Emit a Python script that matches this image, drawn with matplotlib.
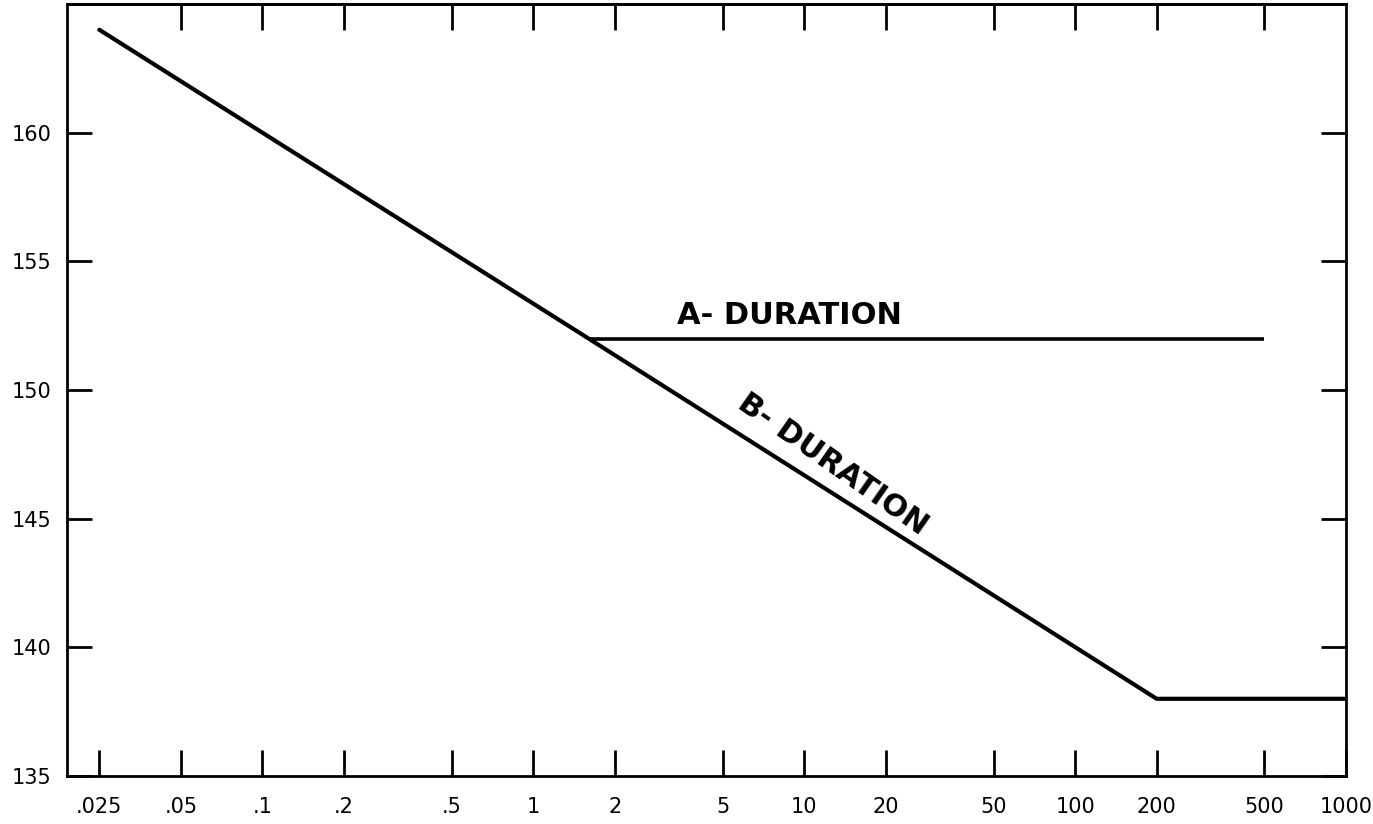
import numpy as np
import matplotlib
matplotlib.use("Agg")
import matplotlib.pyplot as plt
from matplotlib.ticker import FixedLocator, NullLocator

# duration (ms) vs peak level (dB)
b_dur = [0.025, 1.6, 200, 1000]
b_level = [164, 152, 138, 138]
a_dur = [1.6, 500]
a_level = [152, 152]

x_ticks = [0.025, 0.05, 0.1, 0.2, 0.5, 1, 2, 5, 10, 20, 50, 100, 200, 500, 1000]
x_labels = [".025", ".05", ".1", ".2", ".5", "1", "2", "5", "10", "20", "50",
            "100", "200", "500", "1000"]
y_ticks = [135, 140, 145, 150, 155, 160]

fig = plt.figure(figsize=(13.73, 8.24), dpi=100)
ax = fig.add_axes([67/1373, 1 - 776/824, 1279/1373, 772/824])

ax.plot(b_dur, b_level, color="black", lw=3, solid_joinstyle="round", solid_capstyle="round")
ax.plot(a_dur, a_level, color="black", lw=2.6, solid_capstyle="butt")

ax.set_xscale("log")
ax.set_xlim(0.019, 1000)
ax.set_ylim(135, 165)

ax.xaxis.set_major_locator(FixedLocator(x_ticks))
ax.xaxis.set_minor_locator(NullLocator())
ax.set_xticklabels(x_labels)
ax.set_yticks(y_ticks)

ax.tick_params(axis="x", direction="in", length=19, width=2, pad=15, labelsize=15)
ax.tick_params(axis="y", direction="in", length=18, width=2, pad=11, labelsize=15,
               right=True)
for s in ax.spines.values():
    s.set_linewidth(2)

# top ticks start at .05
top = ax.secondary_xaxis("top")
top.xaxis.set_major_locator(FixedLocator(x_ticks[1:-1]))
top.xaxis.set_minor_locator(NullLocator())
top.tick_params(direction="in", length=19, width=2, labeltop=False)
top.spines["top"].set_linewidth(2)

ax.text(8.8, 152.9, "A- DURATION", fontsize=22, fontweight="bold",
        ha="center", va="center")
ax.text(12.8, 147.1, "B- DURATION", fontsize=22, fontweight="bold",
        ha="center", va="center", rotation=-35, rotation_mode="anchor")

fig.savefig("out.png", dpi=100)
